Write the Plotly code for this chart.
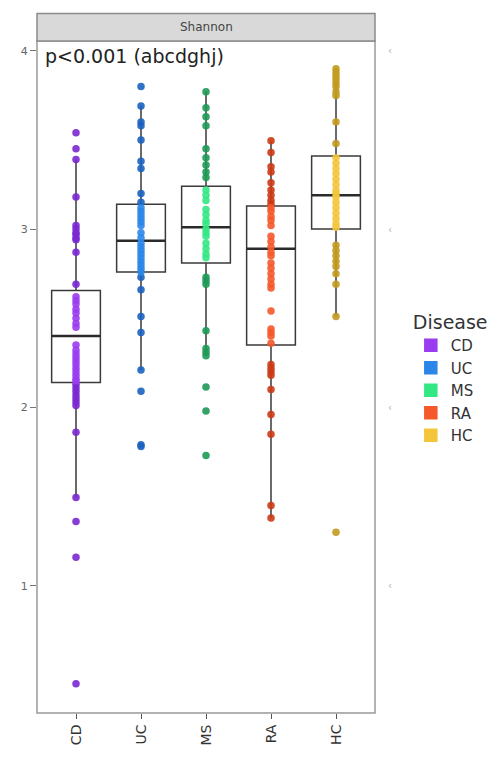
import plotly.graph_objects as go

categories = ["CD", "UC", "MS", "RA", "HC"]
colors = {"CD": "#9a3cf0", "UC": "#2b86e8", "MS": "#33e883", "RA": "#f5582a", "HC": "#f4c53a"}
dark_colors = {"CD": "#7a28d0", "UC": "#1b62c0", "MS": "#1d9a55", "RA": "#cc3a14", "HC": "#c39a1f"}

cd_vals = [3.54, 3.45, 3.39, 3.18, 3.02, 3.00, 2.98, 2.97, 2.95, 2.94, 2.87, 2.69, 2.62, 2.60,
           2.58, 2.55, 2.53, 2.50, 2.47, 2.45, 2.35, 2.32, 2.30, 2.28, 2.26, 2.24, 2.22, 2.20,
           2.18, 2.16, 2.15, 2.13, 2.11, 2.09, 2.07, 2.05, 2.03, 2.01, 1.86, 1.495, 1.36, 1.16, 0.45]
uc_vals = [3.80, 3.69, 3.60, 3.58, 3.50, 3.38, 3.34, 3.20, 3.15, 3.12, 3.10, 3.08, 3.06, 3.04,
           3.02, 2.98, 2.95, 2.92, 2.90, 2.88, 2.86, 2.84, 2.82, 2.80, 2.78, 2.76, 2.73, 2.66,
           2.51, 2.42, 2.21, 2.09, 1.79, 1.78]
ms_vals = [3.77, 3.68, 3.63, 3.58, 3.45, 3.40, 3.36, 3.32, 3.29, 3.22, 3.19, 3.16, 3.11, 3.08,
           3.05, 3.03, 3.00, 2.98, 2.96, 2.92, 2.89, 2.86, 2.84, 2.73, 2.71, 2.69, 2.43, 2.33,
           2.31, 2.29, 2.115, 1.98, 1.73]
ra_vals = [3.495, 3.43, 3.35, 3.32, 3.26, 3.22, 3.19, 3.16, 3.14, 3.12, 3.10, 3.07, 3.05, 3.02,
           2.96, 2.93, 2.90, 2.87, 2.85, 2.81, 2.78, 2.75, 2.72, 2.69, 2.67, 2.54, 2.44, 2.42,
           2.40, 2.36, 2.24, 2.22, 2.20, 2.18, 2.10, 1.96, 1.85, 1.45, 1.38]
hc_vals = [3.90, 3.88, 3.86, 3.84, 3.82, 3.80, 3.77, 3.75, 3.60, 3.48, 3.40, 3.37, 3.34, 3.31,
           3.28, 3.25, 3.22, 3.20, 3.18, 3.15, 3.12, 3.09, 3.06, 3.03, 3.01, 2.91, 2.88, 2.85,
           2.82, 2.79, 2.75, 2.69, 2.51, 1.30]

values = {"CD": cd_vals, "UC": uc_vals, "MS": ms_vals, "RA": ra_vals, "HC": hc_vals}

# box statistics
q1 = [2.14, 2.76, 2.81, 2.35, 3.00]
median = [2.40, 2.935, 3.01, 2.89, 3.19]
q3 = [2.655, 3.14, 3.24, 3.13, 3.41]
lower_fence = [1.495, 2.21, 2.29, 1.38, 2.51]
upper_fence = [3.39, 3.69, 3.77, 3.495, 3.90]

y_ticks = [1, 2, 3, 4]

FONT = "DejaVu Sans, Arial, sans-serif"

fig = go.Figure()

for i, c in enumerate(categories):
    fig.add_trace(go.Box(
        x=[c], q1=[q1[i]], median=[median[i]], q3=[q3[i]],
        lowerfence=[lower_fence[i]], upperfence=[upper_fence[i]],
        width=0.75, whiskerwidth=0, fillcolor="rgba(255,255,255,0)",
        line=dict(color="#3a3a3a", width=1.5), boxpoints=False,
        showlegend=False, hoverinfo="skip"))

for i, c in enumerate(categories):
    vals = values[c]
    inside = [v for v in vals if q1[i] <= v <= q3[i]]
    outside = [v for v in vals if not (q1[i] <= v <= q3[i])]
    fig.add_trace(go.Scatter(
        x=[c] * len(outside), y=outside, mode="markers",
        marker=dict(color=dark_colors[c], size=7.5, opacity=0.9),
        showlegend=False))
    fig.add_trace(go.Scatter(
        x=[c] * len(inside), y=inside, mode="markers",
        marker=dict(color=colors[c], size=7.5, opacity=0.9),
        showlegend=False))

# thick median bars (degenerate boxes at the median)
for i, c in enumerate(categories):
    fig.add_trace(go.Box(
        x=[c], q1=[median[i]], median=[median[i]], q3=[median[i]],
        lowerfence=[median[i]], upperfence=[median[i]],
        width=0.75, whiskerwidth=0, fillcolor="rgba(0,0,0,0)",
        line=dict(color="#2a2a2a", width=2.5), boxpoints=False,
        showlegend=False, hoverinfo="skip"))

# legend entries
for c in categories:
    fig.add_trace(go.Box(
        x=[None], y=[None], name=c,
        fillcolor=colors[c], line=dict(color=colors[c], width=1.5),
        showlegend=True, hoverinfo="skip"))

W, H = 502, 758
ml, mr, mt, mb = 37, 125, 41, 31
ph = H - mt - mb

fig.update_layout(
    width=W, height=H,
    margin=dict(l=ml, r=mr, t=mt, b=mb),
    paper_bgcolor="white", plot_bgcolor="white",
    boxmode="overlay",
    font=dict(family=FONT, color="#333333"),
    xaxis=dict(
        type="category", categoryorder="array", categoryarray=categories,
        range=[-0.6, 4.6], showgrid=False, zeroline=False,
        ticks="outside", ticklen=5, tickcolor="#555555", tickwidth=1,
        tickangle=-90, tickfont=dict(size=14, color="#333333", family=FONT),
        showline=False),
    yaxis=dict(
        range=[0.286, 4.055], tickvals=y_ticks, showgrid=False, zeroline=False,
        ticks="outside", ticklen=6, tickcolor="#777777", tickwidth=1,
        tickfont=dict(size=11, color="#666666", family=FONT), showline=False),
    legend=dict(
        title=dict(text="Disease", font=dict(size=19, color="#333333", family=FONT)),
        x=1.106, y=0.608, xanchor="left", yanchor="top",
        font=dict(size=15, color="#333333", family=FONT), tracegroupgap=0,
        itemwidth=30, bgcolor="rgba(0,0,0,0)"),
    shapes=[
        dict(type="rect", xref="paper", yref="paper", x0=0, x1=1, y0=0, y1=1,
             line=dict(color="#999999", width=1.5), fillcolor="rgba(0,0,0,0)", layer="above"),
        dict(type="rect", xref="paper", yref="paper", x0=0, x1=1, y0=1, y1=1 + 28 / ph,
             line=dict(color="#8a8a8a", width=1.5), fillcolor="#d9d9d9"),
    ],
    annotations=[
        dict(text="Shannon", xref="paper", yref="paper", x=0.5, y=1 + 14 / ph,
             showarrow=False, font=dict(size=12, color="#444444", family=FONT),
             xanchor="center", yanchor="middle"),
        dict(text="p<0.001 (abcdghj)", xref="paper", yref="y", x=0.018, y=4.045,
             showarrow=False, font=dict(size=19, color="#222222", family=FONT),
             xanchor="left", yanchor="top"),
    ] + [
        dict(text="\u2039", xref="paper", yref="y", x=1.044, y=v, showarrow=False,
             font=dict(size=10, color="#b0b0b0"), xanchor="center", yanchor="middle")
        for v in y_ticks
    ],
)

fig.write_html("out.html")
